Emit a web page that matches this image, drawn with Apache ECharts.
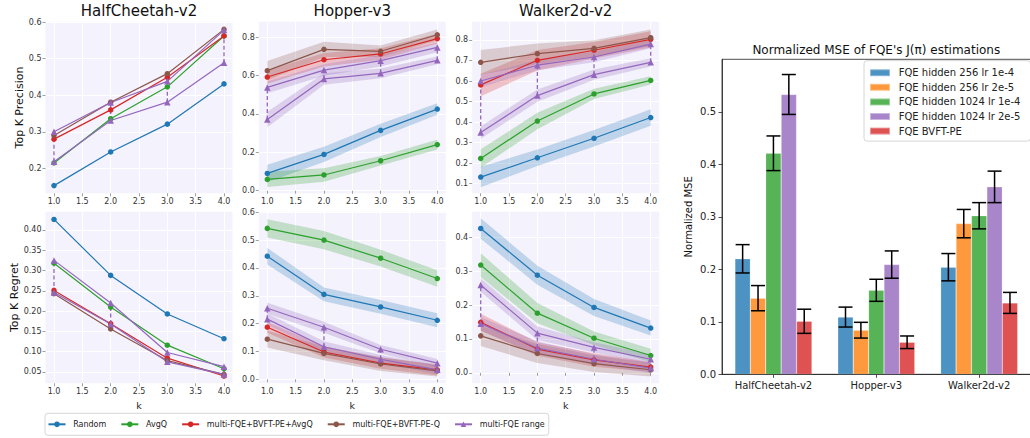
<!DOCTYPE html>
<html><head><meta charset="utf-8">
<script src="https://cdn.jsdelivr.net/npm/echarts@6/dist/echarts.min.js"></script>
<style>html,body{margin:0;padding:0;background:#fff}#c{width:1030px;height:438px}</style>
</head><body><div id="c"></div>
<script>
// ---------------- DATA ----------------
const K = [1, 2, 3, 4];
const envNames = ['HalfCheetah-v2', 'Hopper-v3', 'Walker2d-v2'];
const methodNames = ['Random', 'AvgQ', 'multi-FQE+BVFT-PE+AvgQ', 'multi-FQE+BVFT-PE-Q', 'multi-FQE range'];

// Tick labels
const xTicks = [1.0, 1.5, 2.0, 2.5, 3.0, 3.5, 4.0];
const yTicksHcPrec = [0.2, 0.3, 0.4, 0.5, 0.6];
const yTicksHpPrec = [0.0, 0.2, 0.4, 0.6, 0.8];
const yTicksWkPrec = [0.1, 0.2, 0.3, 0.4, 0.5, 0.6, 0.7, 0.8];
const yTicksHcReg = [0.05, 0.10, 0.15, 0.20, 0.25, 0.30, 0.35, 0.40];
const yTicksHpReg = [0.0, 0.1, 0.2, 0.3, 0.4, 0.5, 0.6];
const yTicksWkReg = [0.0, 0.1, 0.2, 0.3, 0.4];
const yTicksMse = [0.0, 0.1, 0.2, 0.3, 0.4, 0.5];

// HalfCheetah - Top K Precision
const hcPrecRandom = [0.153, 0.245, 0.321, 0.431];
const hcPrecAvgQ = [0.215, 0.336, 0.423, 0.562];
const hcPrecBvftAvgQ = [0.280, 0.360, 0.449, 0.562];
const hcPrecBvftQ = [0.290, 0.381, 0.459, 0.580];
const hcPrecRangeHi = [0.300, 0.380, 0.438, 0.578];
const hcPrecRangeLo = [0.218, 0.331, 0.381, 0.489];

// Hopper - Top K Precision (mean, band half-width)
const hpPrecRandom = [0.090, 0.189, 0.314, 0.425];
const hpPrecRandomSd = [0.045, 0.040, 0.035, 0.030];
const hpPrecAvgQ = [0.059, 0.082, 0.156, 0.240];
const hpPrecAvgQSd = [0.040, 0.035, 0.025, 0.025];
const hpPrecBvftAvgQ = [0.592, 0.682, 0.712, 0.792];
const hpPrecBvftAvgQSd = [0.035, 0.035, 0.030, 0.025];
const hpPrecBvftQ = [0.625, 0.736, 0.726, 0.812];
const hpPrecBvftQSd = [0.050, 0.040, 0.030, 0.028];
const hpPrecRangeHi = [0.538, 0.628, 0.677, 0.746];
const hpPrecRangeHiSd = [0.030, 0.030, 0.030, 0.025];
const hpPrecRangeLo = [0.371, 0.582, 0.611, 0.679];
const hpPrecRangeLoSd = [0.040, 0.030, 0.025, 0.020];

// Walker2d - Top K Precision
const wkPrecRandom = [0.132, 0.226, 0.321, 0.422];
const wkPrecRandomSd = [0.050, 0.040, 0.040, 0.040];
const wkPrecAvgQ = [0.223, 0.405, 0.537, 0.603];
const wkPrecAvgQSd = [0.045, 0.040, 0.025, 0.020];
const wkPrecBvftAvgQ = [0.581, 0.701, 0.750, 0.803];
const wkPrecBvftAvgQSd = [0.055, 0.050, 0.040, 0.040];
const wkPrecBvftQ = [0.691, 0.733, 0.759, 0.811];
const wkPrecBvftQSd = [0.060, 0.050, 0.040, 0.040];
const wkPrecRangeHi = [0.600, 0.677, 0.717, 0.780];
const wkPrecRangeHiSd = [0.030, 0.025, 0.025, 0.020];
const wkPrecRangeLo = [0.349, 0.529, 0.631, 0.691];
const wkPrecRangeLoSd = [0.030, 0.030, 0.025, 0.020];

// HalfCheetah - Top K Regret
const hcRegRandom = [0.426, 0.288, 0.193, 0.132];
const hcRegAvgQ = [0.318, 0.210, 0.116, 0.058];
const hcRegBvftAvgQ = [0.251, 0.169, 0.084, 0.040];
const hcRegBvftQ = [0.243, 0.156, 0.078, 0.044];
const hcRegRangeHi = [0.325, 0.220, 0.098, 0.063];
const hcRegRangeLo = [0.246, 0.168, 0.075, 0.044];

// Hopper - Top K Regret
const hpRegRandom = [0.442, 0.305, 0.260, 0.212];
const hpRegRandomSd = [0.030, 0.025, 0.025, 0.025];
const hpRegAvgQ = [0.542, 0.500, 0.435, 0.362];
const hpRegAvgQSd = [0.033, 0.033, 0.030, 0.030];
const hpRegBvftAvgQ = [0.187, 0.098, 0.058, 0.034];
const hpRegBvftAvgQSd = [0.020, 0.020, 0.020, 0.020];
const hpRegBvftQ = [0.144, 0.093, 0.055, 0.030];
const hpRegBvftQSd = [0.030, 0.025, 0.025, 0.020];
const hpRegRangeHi = [0.255, 0.187, 0.108, 0.058];
const hpRegRangeHiSd = [0.020, 0.020, 0.015, 0.015];
const hpRegRangeLo = [0.216, 0.117, 0.072, 0.034];
const hpRegRangeLoSd = [0.020, 0.020, 0.015, 0.015];

// Walker2d - Top K Regret
const wkRegRandom = [0.426, 0.288, 0.193, 0.132];
const wkRegRandomSd = [0.030, 0.028, 0.025, 0.022];
const wkRegAvgQ = [0.318, 0.176, 0.102, 0.051];
const wkRegAvgQSd = [0.035, 0.030, 0.020, 0.020];
const wkRegBvftAvgQ = [0.149, 0.070, 0.038, 0.017];
const wkRegBvftAvgQSd = [0.025, 0.020, 0.020, 0.015];
const wkRegBvftQ = [0.109, 0.057, 0.027, 0.009];
const wkRegBvftQSd = [0.030, 0.028, 0.025, 0.020];
const wkRegRangeHi = [0.259, 0.117, 0.075, 0.040];
const wkRegRangeHiSd = [0.020, 0.020, 0.015, 0.015];
const wkRegRangeLo = [0.145, 0.073, 0.040, 0.014];
const wkRegRangeLoSd = [0.020, 0.020, 0.015, 0.015];

// Normalized MSE bars
const mseCats = ['HalfCheetah-v2', 'Hopper-v3', 'Walker2d-v2'];
const barNames = ['FQE hidden 256 lr 1e-4', 'FQE hidden 256 lr 2e-5', 'FQE hidden 1024 lr 1e-4', 'FQE hidden 1024 lr 2e-5', 'FQE BVFT-PE'];
const mseH256Lr1e4 = [0.220, 0.109, 0.204];
const mseH256Lr1e4Err = [0.027, 0.019, 0.026];
const mseH256Lr2e5 = [0.145, 0.084, 0.287];
const mseH256Lr2e5Err = [0.024, 0.015, 0.027];
const mseH1024Lr1e4 = [0.421, 0.160, 0.302];
const mseH1024Lr1e4Err = [0.033, 0.021, 0.025];
const mseH1024Lr2e5 = [0.533, 0.209, 0.357];
const mseH1024Lr2e5Err = [0.038, 0.026, 0.030];
const mseBvft = [0.101, 0.061, 0.136];
const mseBvftErr = [0.023, 0.012, 0.020];

// ---------------- STYLE / LAYOUT ----------------
const FONT = 'DejaVu Sans';
const LINE_COLORS = ['#1f77b4', '#2ca02c', '#d62728', '#8c564b', '#9467bd', '#9467bd'];
const BAR_COLORS = ['#1f77b4', '#ff7f0e', '#2ca02c', '#9467bd', '#d62728'];
const PANEL_BG = '#f4f2fd';
const PW = 187, PH = 171.6;
const lineGridPos = [
  [45.5, 21.7], [258.8, 21.7], [472.2, 21.7],
  [45.5, 211.7], [258.8, 211.7], [472.2, 211.7]
];

const panels = [
  {title: envNames[0], ylabel: 'Top K Precision', yMin: 0.132, yMax: 0.601, yTicks: yTicksHcPrec, dec: 1,
   lines: [hcPrecRandom, hcPrecAvgQ, hcPrecBvftAvgQ, hcPrecBvftQ, hcPrecRangeHi, hcPrecRangeLo], sds: null},
  {title: envNames[1], yMin: -0.0135, yMax: 0.88, yTicks: yTicksHpPrec, dec: 1,
   lines: [hpPrecRandom, hpPrecAvgQ, hpPrecBvftAvgQ, hpPrecBvftQ, hpPrecRangeHi, hpPrecRangeLo],
   sds: [hpPrecRandomSd, hpPrecAvgQSd, hpPrecBvftAvgQSd, hpPrecBvftQSd, hpPrecRangeHiSd, hpPrecRangeLoSd]},
  {title: envNames[2], yMin: 0.053, yMax: 0.889, yTicks: yTicksWkPrec, dec: 1,
   lines: [wkPrecRandom, wkPrecAvgQ, wkPrecBvftAvgQ, wkPrecBvftQ, wkPrecRangeHi, wkPrecRangeLo],
   sds: [wkPrecRandomSd, wkPrecAvgQSd, wkPrecBvftAvgQSd, wkPrecBvftQSd, wkPrecRangeHiSd, wkPrecRangeLoSd]},
  {ylabel: 'Top K Regret', yMin: 0.022, yMax: 0.445, yTicks: yTicksHcReg, dec: 2, xname: 'k',
   lines: [hcRegRandom, hcRegAvgQ, hcRegBvftAvgQ, hcRegBvftQ, hcRegRangeHi, hcRegRangeLo], sds: null},
  {yMin: -0.0144, yMax: 0.602, yTicks: yTicksHpReg, dec: 1, xname: 'k',
   lines: [hpRegRandom, hpRegAvgQ, hpRegBvftAvgQ, hpRegBvftQ, hpRegRangeHi, hpRegRangeLo],
   sds: [hpRegRandomSd, hpRegAvgQSd, hpRegBvftAvgQSd, hpRegBvftQSd, hpRegRangeHiSd, hpRegRangeLoSd]},
  {yMin: -0.031, yMax: 0.4755, yTicks: yTicksWkReg, dec: 1, xname: 'k',
   lines: [wkRegRandom, wkRegAvgQ, wkRegBvftAvgQ, wkRegBvftQ, wkRegRangeHi, wkRegRangeLo],
   sds: [wkRegRandomSd, wkRegAvgQSd, wkRegBvftAvgQSd, wkRegBvftQSd, wkRegRangeHiSd, wkRegRangeLoSd]}
];
const lineNames = [methodNames[0], methodNames[1], methodNames[2], methodNames[3], methodNames[4], methodNames[4]];
const lineSymbols = ['circle', 'circle', 'circle', 'circle', 'triangle', 'triangle'];

const grids = [], xAxes = [], yAxes = [], series = [], titles = [];

panels.forEach((p, pi) => {
  grids.push({left: lineGridPos[pi][0], top: lineGridPos[pi][1], width: PW, height: PH,
    show: true, backgroundColor: PANEL_BG, borderWidth: 0, outerBoundsMode: 'none', containLabel: false});
  xAxes.push({type: 'value', gridIndex: pi, min: 0.85, max: 4.15,
    axisLine: {show: false},
    axisTick: {show: true, length: 3, customValues: xTicks, lineStyle: {color: '#888', width: 0.8}},
    axisLabel: {customValues: xTicks, formatter: v => v.toFixed(1), fontSize: 8, color: '#333', margin: 4, fontFamily: FONT},
    splitLine: {show: true, lineStyle: {color: '#ffffff', width: 1}},
    name: p.xname || '', nameLocation: 'middle', nameGap: 17,
    nameTextStyle: {fontSize: 9.5, color: '#222', fontFamily: FONT}});
  yAxes.push({type: 'value', gridIndex: pi, min: p.yMin, max: p.yMax,
    axisLine: {show: false},
    axisTick: {show: true, length: 3, customValues: p.yTicks, lineStyle: {color: '#888', width: 0.8}},
    axisLabel: {customValues: p.yTicks, formatter: v => v.toFixed(p.dec), fontSize: 8, color: '#333', margin: 4, fontFamily: FONT},
    splitLine: {show: true, lineStyle: {color: '#ffffff', width: 1}},
    name: p.ylabel || '', nameLocation: 'middle', nameGap: 21,
    nameTextStyle: {fontSize: 11, color: '#111', fontFamily: FONT}});
  if (p.title) {
    titles.push({text: p.title, left: lineGridPos[pi][0] + PW / 2, top: 3, textAlign: 'center', padding: 0,
      textStyle: {fontSize: 15, fontWeight: 'normal', color: '#111', fontFamily: FONT}});
  }
  // shaded bands
  if (p.sds) {
    p.lines.forEach((vals, li) => {
      const sd = p.sds[li];
      series.push({type: 'custom', xAxisIndex: pi, yAxisIndex: pi, z: 1, silent: true,
        data: [[K[0], vals[0]]], encode: {x: 0, y: 1},
        renderItem: (params, api) => {
          const pts = [];
          for (let i = 0; i < K.length; i++) pts.push(api.coord([K[i], vals[i] + sd[i]]));
          for (let i = K.length - 1; i >= 0; i--) pts.push(api.coord([K[i], vals[i] - sd[i]]));
          return {type: 'polygon', shape: {points: pts}, style: {fill: LINE_COLORS[li], opacity: 0.25}};
        }});
    });
  }
  // lines
  p.lines.forEach((vals, li) => {
    series.push({type: 'line', name: lineNames[li], xAxisIndex: pi, yAxisIndex: pi, z: 3,
      data: K.map((k, i) => [k, vals[i]]),
      symbol: lineSymbols[li], symbolSize: li >= 4 ? 6.5 : 5.5, showSymbol: true,
      lineStyle: {color: LINE_COLORS[li], width: 1.2},
      itemStyle: {color: LINE_COLORS[li]},
      emphasis: {disabled: true}, silent: true});
  });
  // dashed range connectors
  const hi = p.lines[4], lo = p.lines[5];
  series.push({type: 'custom', xAxisIndex: pi, yAxisIndex: pi, z: 2, silent: true,
    data: K.map((k, i) => [k, lo[i], hi[i]]), encode: {x: 0, y: [1, 2]},
    renderItem: (params, api) => {
      const a = api.coord([api.value(0), api.value(1)]);
      const b = api.coord([api.value(0), api.value(2)]);
      return {type: 'line', shape: {x1: a[0], y1: a[1], x2: b[0], y2: b[1]},
        style: {stroke: '#9467bd', lineWidth: 1.3, lineDash: [4, 2.5]}};
    }});
});

// ---------- bar chart ----------
const BI = 6;
const BAR_W = 15.4, CAP = 7;
grids.push({left: 722, top: 59.3, width: 308.6, height: 315, show: true, borderColor: '#222', borderWidth: 0.8,
  backgroundColor: 'transparent', outerBoundsMode: 'none', containLabel: false});
xAxes.push({type: 'category', gridIndex: BI, data: mseCats,
  axisLine: {show: true, lineStyle: {color: '#222', width: 0.8}},
  axisTick: {show: true, alignWithLabel: true, length: 3.5, lineStyle: {color: '#222', width: 0.8}},
  axisLabel: {fontSize: 10, color: '#222', margin: 6, fontFamily: FONT},
  splitLine: {show: false}});
yAxes.push({type: 'value', gridIndex: BI, min: 0, max: 0.6,
  axisLine: {show: true, lineStyle: {color: '#222', width: 0.8}},
  axisTick: {show: true, length: 3.5, customValues: yTicksMse, lineStyle: {color: '#222', width: 0.8}},
  axisLabel: {customValues: yTicksMse, formatter: v => v.toFixed(1), fontSize: 10, color: '#222', margin: 6, fontFamily: FONT},
  splitLine: {show: false},
  name: 'Normalized MSE', nameLocation: 'middle', nameGap: 29,
  nameTextStyle: {fontSize: 10, color: '#111', fontFamily: FONT}});
titles.push({text: "Normalized MSE of FQE's J(π) estimations", left: 876.3, top: 43.5, textAlign: 'center', padding: 0,
  textStyle: {fontSize: 12, fontWeight: 'normal', color: '#111', fontFamily: FONT}});

const barVals = [mseH256Lr1e4, mseH256Lr2e5, mseH1024Lr1e4, mseH1024Lr2e5, mseBvft];
const barErrs = [mseH256Lr1e4Err, mseH256Lr2e5Err, mseH1024Lr1e4Err, mseH1024Lr2e5Err, mseBvftErr];
barVals.forEach((vals, bi) => {
  series.push({type: 'bar', name: barNames[bi], xAxisIndex: BI, yAxisIndex: BI, data: vals,
    barWidth: BAR_W, barGap: '0%', z: 2, silent: true,
    itemStyle: {color: BAR_COLORS[bi], opacity: 0.8, borderColor: 'rgba(255,255,255,0.5)', borderWidth: 0.5}});
});
barVals.forEach((vals, bi) => {
  const errs = barErrs[bi];
  series.push({type: 'custom', xAxisIndex: BI, yAxisIndex: BI, z: 4, silent: true,
    data: mseCats.map((c, j) => [j, vals[j], errs[j]]), encode: {x: 0, y: 1},
    renderItem: (params, api) => {
      const j = api.value(0), v = api.value(1), e = api.value(2);
      const c = api.coord([j, v]);
      const x = c[0] + (bi - 2) * BAR_W;
      const yt = api.coord([j, v + e])[1], yb = api.coord([j, v - e])[1];
      const st = {stroke: '#000', lineWidth: 1.5};
      return {type: 'group', children: [
        {type: 'line', shape: {x1: x, y1: yt, x2: x, y2: yb}, style: st},
        {type: 'line', shape: {x1: x - CAP, y1: yt, x2: x + CAP, y2: yt}, style: st},
        {type: 'line', shape: {x1: x - CAP, y1: yb, x2: x + CAP, y2: yb}, style: st}
      ]};
    }});
});

const option = {
  animation: false,
  backgroundColor: '#ffffff',
  textStyle: {fontFamily: FONT},
  title: titles,
  grid: grids,
  xAxis: xAxes,
  yAxis: yAxes,
  legend: [
    {data: methodNames, orient: 'horizontal', left: 45, top: 413.3, itemWidth: 17, itemHeight: 7, itemGap: 14,
     padding: [6, 4, 6, 2.5], borderColor: '#cccccc', borderWidth: 0.8, borderRadius: 3, backgroundColor: '#fff',
     textStyle: {fontSize: 8, color: '#222', fontFamily: FONT, lineHeight: 10, padding: [0, 0, 0, 2.7]},
     selectedMode: false},
    {data: barNames, orient: 'vertical', left: 864, top: 60.7, itemWidth: 20, itemHeight: 7, itemGap: 2.6,
     padding: [6, 10, 4, 5], borderColor: '#cccccc', borderWidth: 0.8, borderRadius: 3, backgroundColor: 'rgba(255,255,255,0.8)',
     icon: 'rect',
     textStyle: {fontSize: 10, color: '#222', fontFamily: FONT, lineHeight: 12, padding: [0, 0, 0, 3.7]},
     selectedMode: false}
  ],
  series: series
};

const chart = echarts.init(document.getElementById('c'), null, {renderer: 'svg'});
chart.setOption(option);
</script>
</body></html>
